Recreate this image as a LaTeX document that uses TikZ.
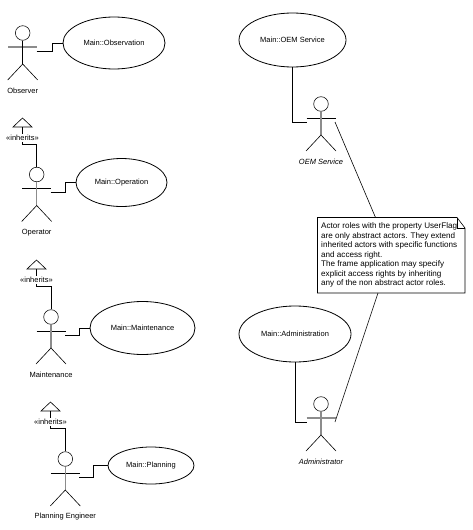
\documentclass[tikz,border=0pt]{standalone}
\usepackage{fontspec}
\setmainfont{Liberation Sans}
\usetikzlibrary{positioning,shapes.geometric,calc}
\definecolor{armGrey}{HTML}{8C8C8C}
\newcommand{\actorfig}[6]{%
  \node[head] (#1Head) at (#2,#3) {};
  \draw[#5] ($(#2,#3)+(-14.5,14)$) -- ($(#2,#3)+(14.5,14)$);
  \draw[#6] (#1Head.south) -- ($(#2,#3)+(0,31)$);
  \draw[figline] ($(#2,#3)+(-15,47)$) -- ($(#2,#3)+(0,31)$) -- ($(#2,#3)+(15,47)$);
  \coordinate (#1Hand) at ($(#2,#3)+(14,18)$);
  \coordinate (#1Left) at ($(#2,#3)+(-14,18)$);
  \node[label text] (#1Name) at ($(#2,#3)+(0,58)$) {#4};
}
\newcommand{\inheritmark}[3]{%
  \coordinate (#1Apex) at (#2,#3);
  \coordinate (#1Base) at ($(#2,#3)+(0,9)$);
  \draw[figline] (#1Apex) -- ($(#2,#3)+(9.5,9)$) -- ($(#2,#3)+(-9.5,9)$) -- cycle;
  \node[label text] (#1Tag) at ($(#2,#3)+(0,20)$) {«inherits»};
  \draw[link] (#1Base) -- (#1Tag.north);
}
\begin{document}
\begin{tikzpicture}[
  x=1pt,
  y=-1pt,
  head/.style={circle, draw=black, line width=0.55pt, minimum size=14.6pt, inner sep=0pt},
  figline/.style={line width=0.6pt, draw=black},
  figdark/.style={line width=0.8pt, draw=black},
  figgrey/.style={line width=1.4pt, draw=armGrey},
  link/.style={line width=0.8pt, draw=black},
  noteline/.style={line width=0.6pt, draw=black},
  usecase/.style={ellipse, draw=black, line width=0.8pt, inner sep=0pt, font=\fontsize{7.5}{9}\selectfont},
  label text/.style={inner sep=0pt, outer sep=1pt, font=\fontsize{7.5}{9}\selectfont}
]
\useasboundingbox (0,0) rectangle (473,530);

\actorfig{observer}{22.7}{33}{Observer}{figgrey}{figdark}
\actorfig{operator}{36.7}{174.5}{Operator}{figdark}{figgrey}
\actorfig{maintenance}{51}{317}{Maintenance}{figdark}{figgrey}
\actorfig{planning}{65.3}{459}{Planning Engineer}{figdark}{figgrey}
\actorfig{oem}{321}{104}{\itshape OEM Service}{figdark}{figgrey}
\actorfig{admin}{321}{404}{\itshape Administrator}{figgrey}{figgrey}

\node[usecase, minimum width=102pt, minimum height=52pt] (observation) at (114,43) {Main::Observation};
\node[usecase, minimum width=91pt, minimum height=48pt] (operation) at (121.5,182.5) {Main::Operation};
\node[usecase, minimum width=105pt, minimum height=53pt] (maintain) at (142.5,328) {Main::Maintenance};
\node[usecase, minimum width=86pt, minimum height=37pt] (plan) at (151,465.5) {Main::Planning};
\node[usecase, minimum width=107pt, minimum height=54pt] (service) at (292.5,40) {Main::OEM Service};
\node[usecase, minimum width=112pt, minimum height=56pt] (administration) at (295,334) {Main::Administration};

\inheritmark{opInherit}{22.5}{118}
\inheritmark{mtInherit}{36.5}{260}
\inheritmark{plInherit}{50.5}{402}

\draw[link] (opInheritTag.south) -- ++(0,3) -| (operatorHead.north);
\draw[link] (mtInheritTag.south) -- ++(0,3) -| (maintenanceHead.north);
\draw[link] (plInheritTag.south) -- ++(0,3) -| (planningHead.north);

\draw[link] (observerHand) -- ++(16,0) |- (observation.west);
\draw[link] (operatorHand) -- ++(15,0) |- (operation.west);
\draw[link] (maintenanceHand) -- ++(14,0) |- (maintain.west);
\draw[link] (planningHand) -- ++(14,0) |- (plan.west);
\draw[link] (service.south) |- (oemLeft);
\draw[link] (administration.south) |- (adminLeft);

\node[inner sep=0pt, anchor=north west, align=left, font=\fontsize{8.1}{9.5}\selectfont] (noteText) at (321,222.5) {Actor roles with the property UserFlag\\are only abstract actors. They extend\\inherited actors with specific functions\\and access right.\\The frame application may specify\\explicit access rights by inheriting\\any of the non abstract actor roles.};
\coordinate (noteTop) at (375.5,217.5);
\coordinate (noteBottom) at (378,293);
\draw[noteline] (317.5,217.5) -- (457,217.5) -- (465,228) -- (465,293) -- (317.5,293) -- cycle;
\draw[noteline] (457,217.5) -- (457,228) -- (465,228);

\draw[figline] (oemHand) -- (noteTop);
\draw[figline] (noteBottom) -- (adminHand);
\end{tikzpicture}
\end{document}
